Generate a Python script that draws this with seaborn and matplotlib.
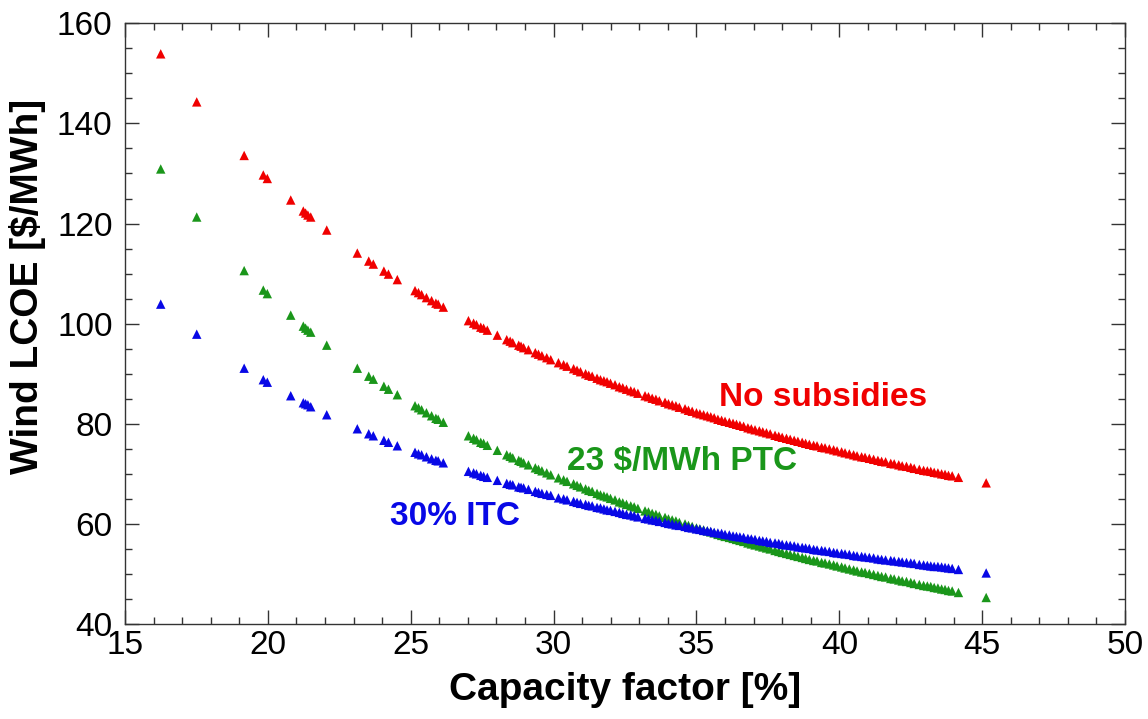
import numpy as np
import pandas as pd
import matplotlib
matplotlib.use("Agg")
import matplotlib.pyplot as plt
from matplotlib.ticker import MultipleLocator
import seaborn as sns

capacity_factor = [
    16.25, 17.51, 19.17, 19.84, 19.98, 20.80, 21.24, 21.32, 21.40, 21.50, 22.06,
    23.13, 23.53, 23.69, 24.06, 24.22, 24.53,
    25.15, 25.27, 25.38, 25.55, 25.73, 25.88, 25.96, 26.14,
    27.02, 27.20, 27.30, 27.45, 27.55, 27.68, 28.03, 28.36, 28.48, 28.57, 28.78,
    28.86, 28.95, 29.12, 29.36, 29.47, 29.59, 29.76, 29.90, 30.17, 30.35, 30.47,
    30.70, 30.82, 30.94, 31.12, 31.23, 31.35, 31.52, 31.64, 31.76, 31.87, 31.99,
    32.15, 32.30, 32.42, 32.55, 32.70, 32.82, 32.95, 33.20, 33.32, 33.45, 33.58,
    33.70, 33.90, 34.02, 34.15, 34.28, 34.40, 34.60, 34.72, 34.85, 35.00, 35.12,
    35.25, 35.38, 35.50, 35.62, 35.75, 35.88, 36.00, 36.15, 36.28, 36.40, 36.52,
    36.65, 36.80, 36.92, 37.05, 37.20, 37.32, 37.45, 37.58, 37.75, 37.88, 38.00,
    38.15, 38.28, 38.42, 38.55, 38.70, 38.82, 38.95, 39.10, 39.22, 39.38, 39.50,
    39.65, 39.80, 39.92, 40.08, 40.20, 40.35, 40.50, 40.62, 40.78, 40.90, 41.05,
    41.20, 41.35, 41.48, 41.62, 41.80, 41.92, 42.08, 42.20, 42.35, 42.50, 42.62,
    42.80, 42.95, 43.08, 43.20, 43.32, 43.45, 43.58, 43.70, 43.82, 43.95, 44.17,
    45.14,
]

lcoe_no_subsidies = [
    153.9, 144.3, 133.6, 129.7, 129.0, 124.7, 122.5, 122.1, 121.7, 121.3, 118.7,
    114.1, 112.5, 111.9, 110.5, 109.9, 108.8,
    106.6, 106.2, 105.8, 105.2, 104.6, 104.1, 103.9, 103.3,
    100.6, 100.1, 99.8, 99.3, 99.1, 98.7, 97.7, 96.8, 96.5, 96.2, 95.7,
    95.5, 95.2, 94.8, 94.2, 93.9, 93.6, 93.2, 92.8, 92.2, 91.8, 91.5,
    91.0, 90.7, 90.4, 90.0, 89.7, 89.5, 89.1, 88.8, 88.6, 88.4, 88.1,
    87.8, 87.4, 87.2, 86.9, 86.6, 86.4, 86.1, 85.6, 85.4, 85.1, 84.9,
    84.6, 84.3, 84.0, 83.8, 83.6, 83.3, 83.0, 82.7, 82.5, 82.2, 82.0,
    81.8, 81.6, 81.4, 81.2, 80.9, 80.7, 80.5, 80.3, 80.1, 79.9, 79.7,
    79.5, 79.2, 79.0, 78.8, 78.6, 78.4, 78.2, 78.0, 77.7, 77.5, 77.3,
    77.1, 76.9, 76.7, 76.5, 76.3, 76.1, 75.9, 75.7, 75.6, 75.3, 75.2,
    75.0, 74.8, 74.6, 74.4, 74.2, 74.0, 73.8, 73.6, 73.4, 73.3, 73.1,
    72.9, 72.7, 72.5, 72.4, 72.1, 72.0, 71.8, 71.6, 71.5, 71.3, 71.1,
    70.9, 70.7, 70.6, 70.5, 70.3, 70.2, 70.0, 69.9, 69.7, 69.6, 69.3,
    68.2,
]

lcoe_ptc = [
    130.9, 121.3, 110.6, 106.7, 106.0, 101.7, 99.5, 99.1, 98.7, 98.3, 95.7,
    91.1, 89.5, 88.9, 87.5, 86.9, 85.8,
    83.6, 83.2, 82.8, 82.2, 81.6, 81.1, 80.9, 80.3,
    77.6, 77.1, 76.8, 76.3, 76.1, 75.7, 74.7, 73.8, 73.5, 73.2, 72.7,
    72.5, 72.2, 71.8, 71.2, 70.9, 70.6, 70.2, 69.8, 69.2, 68.8, 68.5,
    68.0, 67.7, 67.4, 67.0, 66.7, 66.5, 66.1, 65.8, 65.6, 65.4, 65.1,
    64.8, 64.4, 64.2, 63.9, 63.6, 63.4, 63.1, 62.6, 62.4, 62.1, 61.9,
    61.6, 61.3, 61.0, 60.8, 60.6, 60.3, 60.0, 59.7, 59.5, 59.2, 59.0,
    58.8, 58.6, 58.4, 58.2, 57.9, 57.7, 57.5, 57.3, 57.1, 56.9, 56.7,
    56.5, 56.2, 56.0, 55.8, 55.6, 55.4, 55.2, 55.0, 54.7, 54.5, 54.3,
    54.1, 53.9, 53.7, 53.5, 53.3, 53.1, 52.9, 52.7, 52.6, 52.3, 52.2,
    52.0, 51.8, 51.6, 51.4, 51.2, 51.0, 50.8, 50.6, 50.4, 50.3, 50.1,
    49.9, 49.7, 49.5, 49.4, 49.1, 49.0, 48.8, 48.6, 48.5, 48.3, 48.1,
    47.9, 47.7, 47.6, 47.5, 47.3, 47.2, 47.0, 46.9, 46.7, 46.6, 46.3,
    45.3,
]

lcoe_itc = [
    103.9, 97.9, 91.1, 88.8, 88.3, 85.6, 84.2, 84.0, 83.8, 83.4, 81.8,
    79.0, 78.0, 77.6, 76.7, 76.3, 75.6,
    74.3, 74.0, 73.8, 73.4, 73.0, 72.7, 72.6, 72.2,
    70.5, 70.2, 70.0, 69.7, 69.5, 69.3, 68.7, 68.1, 67.9, 67.8, 67.4,
    67.3, 67.2, 66.9, 66.5, 66.3, 66.1, 65.9, 65.7, 65.2, 65.0, 64.8,
    64.5, 64.3, 64.1, 63.9, 63.7, 63.6, 63.3, 63.2, 63.0, 62.8, 62.7,
    62.5, 62.3, 62.1, 61.9, 61.8, 61.6, 61.4, 61.1, 61.0, 60.8, 60.7,
    60.5, 60.3, 60.1, 60.0, 59.8, 59.7, 59.5, 59.3, 59.2, 59.0, 58.9,
    58.7, 58.6, 58.5, 58.3, 58.2, 58.1, 57.9, 57.8, 57.6, 57.5, 57.4,
    57.3, 57.1, 57.0, 56.9, 56.7, 56.6, 56.5, 56.3, 56.2, 56.1, 55.9,
    55.8, 55.7, 55.6, 55.4, 55.3, 55.2, 55.1, 54.9, 54.8, 54.7, 54.6,
    54.5, 54.3, 54.2, 54.1, 54.0, 53.9, 53.7, 53.6, 53.5, 53.4, 53.3,
    53.2, 53.0, 52.9, 52.8, 52.7, 52.6, 52.5, 52.4, 52.3, 52.2, 52.1,
    51.9, 51.8, 51.7, 51.6, 51.5, 51.5, 51.4, 51.3, 51.2, 51.1, 50.9,
    50.2,
]

series_names = ["No subsidies", "23 $/MWh PTC", "30% ITC"]
series_colors = {"No subsidies": "#f00000", "23 $/MWh PTC": "#1a961a", "30% ITC": "#0808e6"}

df = pd.concat([
    pd.DataFrame({"cf": capacity_factor, "lcoe": lcoe_no_subsidies, "case": series_names[0]}),
    pd.DataFrame({"cf": capacity_factor, "lcoe": lcoe_ptc, "case": series_names[1]}),
    pd.DataFrame({"cf": capacity_factor, "lcoe": lcoe_itc, "case": series_names[2]}),
], ignore_index=True)

sns.set_theme(style="ticks")
plt.rcParams["font.family"] = ["Liberation Sans", "DejaVu Sans"]

fig = plt.figure(figsize=(11.48, 7.19), dpi=100)
ax = fig.add_axes([0.1089, 0.1321, 0.8711, 0.8355])

sns.scatterplot(data=df, x="cf", y="lcoe", hue="case", palette=series_colors,
                hue_order=series_names, marker="^", s=46, linewidth=0,
                legend=False, ax=ax)

ax.set_xlim(15, 50)
ax.set_ylim(40, 160)
ax.xaxis.set_major_locator(MultipleLocator(5))
ax.xaxis.set_minor_locator(MultipleLocator(1))
ax.yaxis.set_major_locator(MultipleLocator(20))
ax.yaxis.set_minor_locator(MultipleLocator(5))
ax.tick_params(which="both", direction="in", top=True, right=True,
               color="#333333", width=1.0, labelsize=24, labelcolor="black")
ax.tick_params(which="major", length=10)
ax.tick_params(axis="x", which="major", pad=4)
ax.tick_params(axis="y", which="major", pad=9)
ax.tick_params(which="minor", length=5)
for sp in ax.spines.values():
    sp.set_visible(True)
    sp.set_color("#333333")
    sp.set_linewidth(1.0)

ax.set_xlabel("Capacity factor [%]", fontsize=28, fontweight="bold",
              labelpad=8, color="black")
ax.set_ylabel("Wind LCOE [$/MWh]", fontsize=28, fontweight="bold", color="black")
ax.yaxis.set_label_coords(-0.079, 0.562)

ax.text(35.8, 85.3, "No subsidies", color=series_colors["No subsidies"],
        fontsize=24, fontweight="bold", ha="left", va="center")
ax.text(30.47, 72.4, "23 $/MWh PTC", color=series_colors["23 $/MWh PTC"],
        fontsize=24, fontweight="bold", ha="left", va="center")
ax.text(24.28, 61.4, "30% ITC", color=series_colors["30% ITC"],
        fontsize=24, fontweight="bold", ha="left", va="center")

fig.savefig("out.png", dpi=100)
